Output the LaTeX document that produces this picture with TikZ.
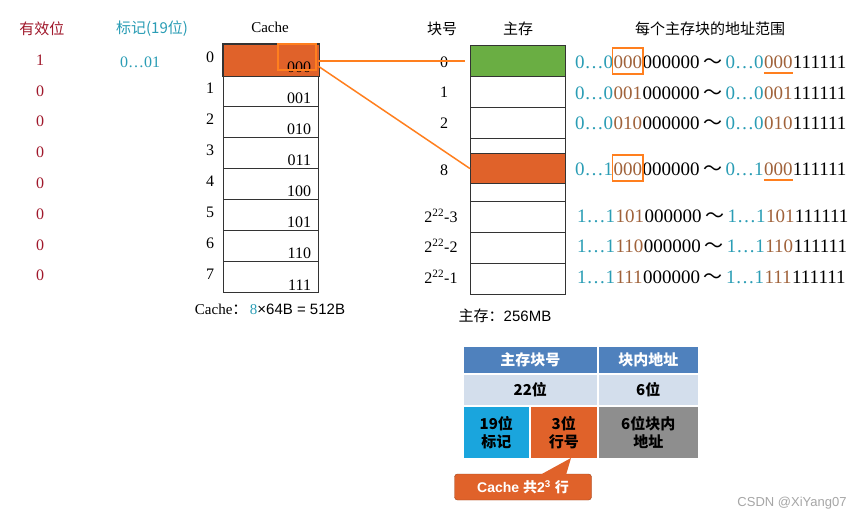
\documentclass[tikz,border=0pt]{standalone}
\usepackage{fontspec}
\setmainfont{Liberation Serif}
\newfontfamily\cjk{Noto Sans CJK SC}
\newfontfamily\sans{Liberation Sans}
\usetikzlibrary{positioning,calc}
\definecolor{vred}{HTML}{A0182B}
\definecolor{teal1}{HTML}{2A9DB5}
\definecolor{brn}{HTML}{A0623A}
\definecolor{org}{HTML}{E0622A}
\definecolor{orgl}{HTML}{FF7F1E}
\definecolor{grn}{HTML}{6AAE43}
\definecolor{tblue}{HTML}{4F81BD}
\definecolor{tlight}{HTML}{D3DEEC}
\definecolor{tcyan}{HTML}{1AA5DD}
\definecolor{tgrey}{HTML}{8E8E8E}
\newcommand{\addrrow}[9]{%
  \node[ap,anchor=base west,text=teal1] (#1p1) at (#2,#3) {#4\dots#5};
  \node[ap,text=brn] (#1b1) at (#1p1.base east) {#6};
  \node[ap] (#1r1) at (#1b1.base east) {#7};
  \node[ap] (#1t) at (#1r1.base east) {\,{\cjk ～}\,};
  \node[ap,text=teal1] (#1p2) at (#1t.base east) {#4\dots#5};
  \node[ap,text=brn] (#1b2) at (#1p2.base east) {#6};
  \node[ap] (#1r2) at (#1b2.base east) {#8#9};}
\begin{document}
\begin{tikzpicture}[x=1pt,y=-1pt,
  cell/.style={draw=black!80,line width=1.2pt,minimum width=95pt,minimum height=31pt,inner sep=0pt,anchor=north west},
  hd/.style={font=\cjk\fontsize{15}{15}\selectfont},
  num/.style={font=\fontsize{16}{16}\selectfont},
  ap/.style={font=\fontsize{19}{19}\selectfont,anchor=base west,inner sep=0pt},
  tb/.style={draw=white,line width=1.5pt,inner sep=0pt,anchor=north west,align=center,font=\cjk\bfseries\fontsize{15}{18}\selectfont},
  ol/.style={draw=orgl,line width=1.8pt}]
\useasboundingbox (0,0) rectangle (855,517);
\fill[white] (0,0) rectangle (855,517);
% headers
\node[hd,text=vred] (h1) at (42,29) {有效位};
\node[hd,text=teal1] (h2) at (152,29) {标记(19位)};
\node[num,font=\fontsize{15}{15}\selectfont] (h3) at (270,27) {Cache};
\node[hd] (h4) at (442,29) {块号};
\node[hd] (h5) at (518,29) {主存};
\node[hd] (h6) at (710,29) {每个主存块的地址范围};
% valid bits
\foreach \v [count=\i from 0] in {1,0,0,0,0,0,0,0}
  \node[num,text=vred] (v\i) at (40,60+30.8*\i) {\v};
\node[num,text=teal1] (tag) at (140,62) {0\dots01};
% cache
\foreach \b [count=\i from 0] in {000,001,010,011,100,101,110,111}{
  \node[cell] (c\i) at (223,44+31*\i) {};
  \node[num] (ci\i) at (210,57+31*\i) {\i};
}
\fill[org] (c0.north west) rectangle (c0.south east);
\draw[draw=black!80,line width=1.2pt] (c0.north west) rectangle (c0.south east);
\foreach \b [count=\i from 0] in {000,001,010,011,100,101,110,111}
  \node[num,anchor=south east,inner sep=1pt] (cb\i) at ($(c\i.south east)+(-7,-2)$) {\b};
\draw[ol] (278,44) rectangle (316,70);
\node[font=\fontsize{15}{15}\selectfont] (csz) at (270,309) {Cache{\cjk ：}\,\textcolor{teal1}{8}{\sans ×64B = 512B}};
% main memory
\node[cell,fill=grn] (m0) at (470,45) {};
\node[cell] (m1) at (470,76) {};
\node[cell] (m2) at (470,107) {};
\node[cell,minimum height=15pt] (mg1) at (470,138) {};
\node[cell,fill=org,minimum height=30pt] (m8) at (470,153) {};
\node[cell,minimum height=18pt] (mg2) at (470,183) {};
\node[cell] (m3) at (470,201) {};
\node[cell] (m4) at (470,232) {};
\node[cell] (m5) at (470,263) {};
\node[num] (l0) at (444,62) {0};
\node[num] (l1) at (444,92) {1};
\node[num] (l2) at (444,123) {2};
\node[num] (l8) at (444,170) {8};
\node[num] (l3) at (441,216) {2\textsuperscript{22}-3};
\node[num] (l4) at (441,246) {2\textsuperscript{22}-2};
\node[num] (l5) at (441,277) {2\textsuperscript{22}-1};
\node[font=\cjk\fontsize{15}{15}\selectfont] (msz) at (505,316) {主存：{\sans 256MB}};
% addresses
\addrrow{A}{575}{68}{0}{0}{000}{000000}{111}{111}
\addrrow{B}{575}{99}{0}{0}{001}{000000}{111}{111}
\addrrow{C}{575}{129}{0}{0}{010}{000000}{111}{111}
\addrrow{D}{575}{175}{0}{1}{000}{000000}{111}{111}
\addrrow{E}{577}{222}{1}{1}{101}{000000}{111}{111}
\addrrow{F}{577}{252}{1}{1}{110}{000000}{111}{111}
\addrrow{G}{577}{283}{1}{1}{111}{000000}{111}{111}
\draw[ol] ($(Ab1.base west)+(-1,6)$) rectangle ($(Ab1.base east)+(1,-20)$);
\draw[ol] ($(Db1.base west)+(-1,6)$) rectangle ($(Db1.base east)+(1,-20)$);
\draw[orgl,line width=1.5pt] ($(Ab2.base west)+(0,5)$) -- ($(Ab2.base east)+(0,5)$);
\draw[orgl,line width=1.5pt] ($(Db2.base west)+(0,5)$) -- ($(Db2.base east)+(0,5)$);
% connectors
\coordinate (p0) at (318,61);
\coordinate (p1) at (318,66);
\draw[orgl,line width=1.5pt] (p0) -- (465,61);
\draw[orgl,line width=1.5pt] (p1) -- (m8.west);
% table
\node[tb,fill=tblue,text=white,minimum width=135pt,minimum height=28pt] (t1) at (462,345) {主存块号};
\node[tb,fill=tblue,text=white,minimum width=101pt,minimum height=28pt] (t2) at (597,345) {块内地址};
\node[tb,fill=tlight,minimum width=135pt,minimum height=32pt] (t3) at (462,373) {22位};
\node[tb,fill=tlight,minimum width=101pt,minimum height=32pt] (t4) at (597,373) {6位};
\node[tb,fill=tcyan,minimum width=67pt,minimum height=53pt] (t5) at (462,405) {19位\\标记};
\node[tb,fill=org,minimum width=68pt,minimum height=53pt] (t6) at (529,405) {3位\\行号};
\node[tb,fill=tgrey,minimum width=101pt,minimum height=53pt] (t7) at (597,405) {6位块内\\地址};
\node[draw=org!70!black,fill=org,rounded corners=3pt,minimum width=137pt,minimum height=26pt,inner sep=0pt,text=white,font=\sans\bfseries\fontsize{14}{14}\selectfont] (call) at (523,487) {Cache {\cjk 共}2\textsuperscript{3} {\cjk 行}};
\fill[org] (540,475) -- (571,458) -- (566,475) -- cycle;
\node[font=\sans\fontsize{13}{13}\selectfont,text=black!35] (wm) at (792,503) {CSDN @XiYang07};
\end{tikzpicture}
\end{document}
